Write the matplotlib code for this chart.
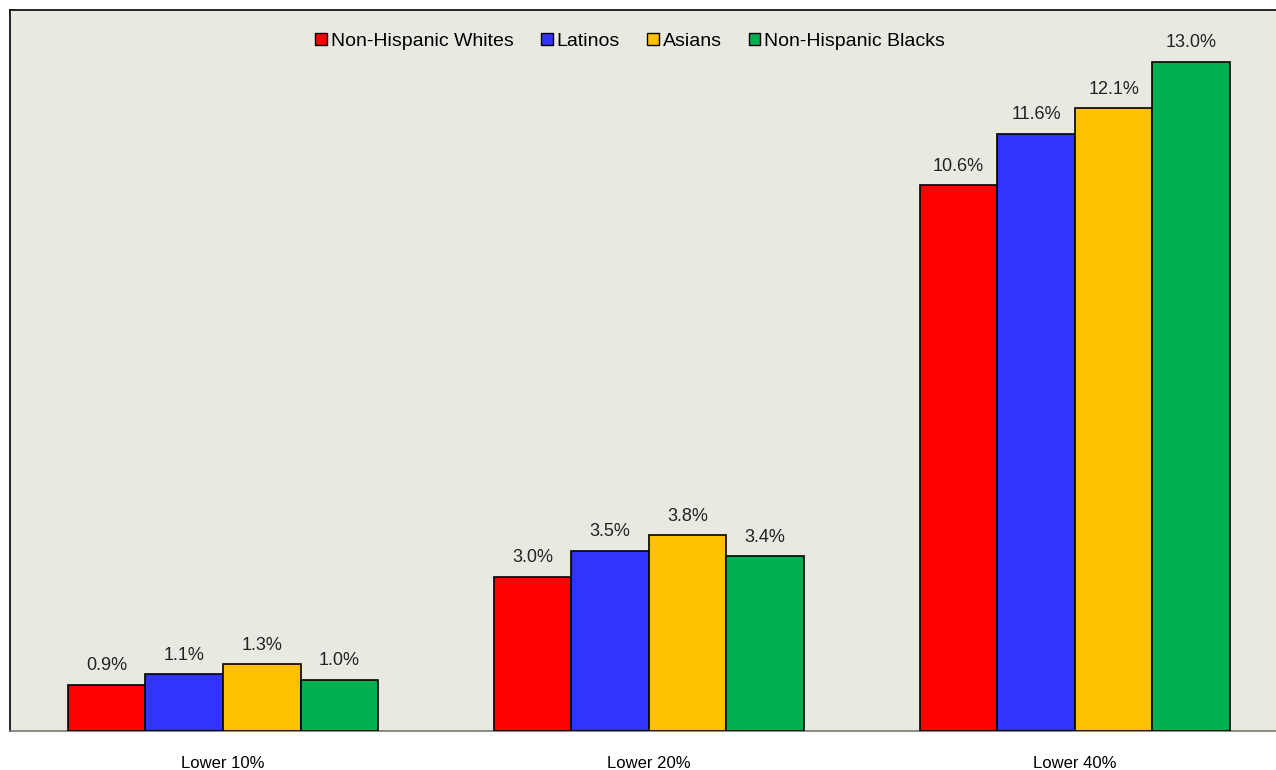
import matplotlib.pyplot as plt
import numpy as np
from matplotlib.patches import Patch

# data
categories = ["Lower 10%", "Lower 20%", "Lower 40%"]
groups = ["Non-Hispanic Whites", "Latinos", "Asians", "Non-Hispanic Blacks"]
whites = [0.9, 3.0, 10.6]
latinos = [1.1, 3.5, 11.6]
asians = [1.3, 3.8, 12.1]
blacks = [1.0, 3.4, 13.0]

colors = ["#FF0000", "#3333FF", "#FFC000", "#00B050"]
plt.rcParams['font.family'] = ['Liberation Sans', 'DejaVu Sans']

fig = plt.figure(figsize=(12.76, 7.7), dpi=100)
ax = fig.add_axes([10/1276, 39/770, 1 - 10/1276, 721/770])
ax.set_facecolor("#EAE9E1")

x = np.arange(len(categories))
w = 0.182
series = [whites, latinos, asians, blacks]
for i, (vals, c) in enumerate(zip(series, colors)):
    pos = x + (i - 1.5) * w
    ax.bar(pos, vals, width=w, color=c, edgecolor="black", linewidth=1.2, zorder=3)
    for p, v in zip(pos, vals):
        ax.text(p, v + 0.2, f"{v:.1f}%", ha="center", va="bottom", fontsize=13, color="#222222")

ax.set_xlim(-0.5, 2.472)
ax.set_ylim(0, 14)
ax.set_yticks([])
ax.set_xticks(x)
ax.set_xticklabels(categories, fontsize=12)
ax.tick_params(axis="x", length=0, pad=18)

ax.spines["right"].set_visible(False)
ax.spines["top"].set_color("black")
ax.spines["left"].set_color("black")
ax.spines["bottom"].set_color("#777777")
for s in ax.spines.values():
    s.set_linewidth(1.2)

handles = [Patch(facecolor=c, edgecolor="black", linewidth=1) for c in colors]
ax.legend(handles, groups, loc="upper center", bbox_to_anchor=(0.49, 0.993), ncol=4,
          frameon=False, fontsize=14, handlelength=0.6, handleheight=0.6,
          handletextpad=0.2, columnspacing=1.4)

fig.savefig("out.png", dpi=100)
